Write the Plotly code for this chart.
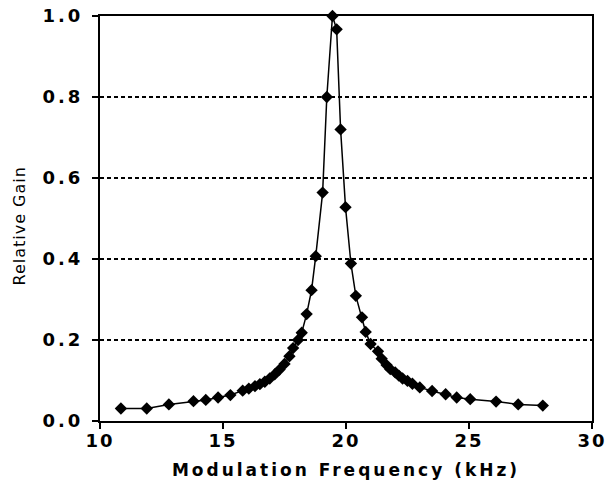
import plotly.graph_objects as go

freq_khz = [10.85, 11.9, 12.8, 13.8, 14.3, 14.8, 15.3, 15.8, 16.05, 16.3, 16.5, 16.7,
            16.9, 17.1, 17.3, 17.5, 17.7, 17.85, 18.05, 18.2, 18.4, 18.6, 18.77, 19.05,
            19.22, 19.45, 19.62, 19.78, 19.98, 20.2, 20.4, 20.65, 20.8, 21.0, 21.3,
            21.45, 21.65, 21.8, 22.0, 22.15, 22.3, 22.5, 22.7, 23.0, 23.5, 24.05, 24.5,
            25.05, 26.1, 27.0, 28.0]
rel_gain = [0.031, 0.031, 0.041, 0.049, 0.052, 0.058, 0.064, 0.075, 0.080, 0.086, 0.091, 0.097,
            0.105, 0.115, 0.127, 0.141, 0.160, 0.180, 0.200, 0.218, 0.264, 0.323, 0.407, 0.564,
            0.80, 1.0, 0.967, 0.72, 0.528, 0.389, 0.309, 0.256, 0.22, 0.19, 0.172,
            0.154, 0.138, 0.128, 0.12, 0.112, 0.105, 0.099, 0.092, 0.083, 0.074, 0.066, 0.058,
            0.054, 0.048, 0.041, 0.038]

x_ticks = [10, 15, 20, 25, 30]
x_tick_labels = ["10", "15", "20", "25", "30"]
y_ticks = [0.0, 0.2, 0.4, 0.6, 0.8, 1.0]
y_tick_labels = ["0.0", "0.2", "0.4", "0.6", "0.8", "1.0"]
x_title = "Modulation Frequency (kHz)"
y_title = "Relative Gain"


def spaced(s, px):
    return '<span style="letter-spacing:%spx">%s</span>' % (px, s)


fig = go.Figure()
fig.add_trace(go.Scatter(
    x=freq_khz, y=rel_gain, mode="lines+markers",
    line=dict(color="black", width=1.5),
    marker=dict(symbol="diamond", size=9.5, color="black"),
    cliponaxis=False, showlegend=False, hoverinfo="skip",
))

fig.update_layout(
    width=609, height=491,
    margin=dict(l=100, r=17, t=16, b=70),
    paper_bgcolor="white", plot_bgcolor="white",
    font=dict(family="DejaVu Sans", color="black"),
    xaxis=dict(
        range=[10, 30], tickvals=x_ticks, ticktext=[spaced(t, 2) for t in x_tick_labels],
        ticks="outside", ticklen=6, tickwidth=1.5, ticklabelstandoff=-4,
        ticklabeloverflow="allow",
        tickcolor="black", showline=True, linecolor="black", linewidth=2, mirror=True,
        showgrid=False, zeroline=False, automargin=False,
        tickfont=dict(size=18, family="DejaVu Sans", weight="bold"),
        title=dict(text=spaced(x_title, 3), standoff=15,
                   font=dict(size=17, family="DejaVu Sans", weight="bold")),
    ),
    yaxis=dict(
        range=[0, 1.0], tickvals=y_ticks, ticktext=[spaced(t, 3) for t in y_tick_labels],
        ticks="outside", ticklen=6, tickwidth=1.5, tickcolor="black", ticklabelstandoff=5,
        ticklabeloverflow="allow",
        showline=True, linecolor="black", linewidth=2, mirror=True,
        showgrid=True, gridcolor="black", gridwidth=1.5, griddash="4px,3px",
        zeroline=False, automargin=False,
        tickfont=dict(size=18, family="DejaVu Sans", weight="bold"),
    ),
    annotations=[dict(
        text=spaced(y_title, 1), textangle=-90, showarrow=False,
        xref="paper", yref="paper", x=0, y=0.5, xanchor="center", yanchor="middle",
        xshift=-81, yshift=-8,
        font=dict(size=16, family="DejaVu Sans", color="black"),
    )],
)

fig.write_html("out.html", config={"displayModeBar": False},
               post_script="document.body.style.margin='0';")
